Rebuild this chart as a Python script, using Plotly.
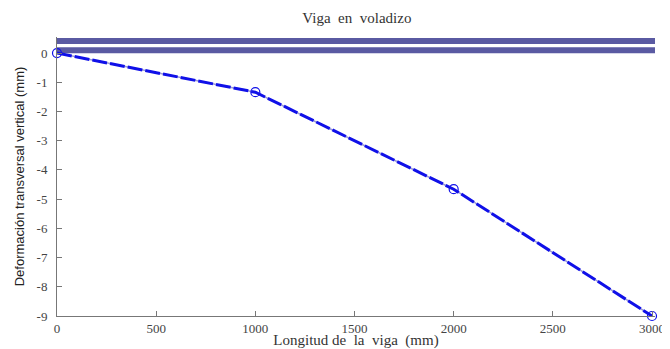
import plotly.graph_objects as go

x_pos = [0, 1000, 2000, 3000]
deflection = [0, -1.34, -4.66, -9.0]
x_ticks = [0, 500, 1000, 1500, 2000, 2500, 3000]
y_ticks = [0, -1, -2, -3, -4, -5, -6, -7, -8, -9]
beam_x = [0, 3015]
beam_top = 0.41
beam_bottom = 0.1

fig = go.Figure()
# beam drawn at top
for yv in (beam_top, beam_bottom):
    fig.add_trace(go.Scatter(x=beam_x, y=[yv, yv], mode="lines",
                             line=dict(color="#5a5aa2", width=6), hoverinfo="skip", showlegend=False))
fig.add_trace(go.Scatter(x=x_pos, y=deflection, mode="lines",
                         line=dict(color="#9a9ad8", width=1.5), showlegend=False))
fig.add_trace(go.Scatter(x=x_pos, y=deflection, mode="lines+markers",
                         line=dict(color="#1010e8", width=3, dash="15px,3px"),
                         marker=dict(symbol="circle-open", size=9, color="#1010e8", line=dict(width=1.2)),
                         showlegend=False, cliponaxis=False))

serif = "Liberation Serif"
# page body adds an 8px offset, so the figure is 8px smaller than the window
fig.update_layout(
    width=662, height=341,
    margin=dict(l=49, r=15, t=29, b=33),
    paper_bgcolor="white", plot_bgcolor="white",
    title=dict(text="Viga  en  voladizo", x=0.527, xanchor="center", y=0.971, yanchor="middle",
               font=dict(family=serif, size=15, color="#333")),
    xaxis=dict(range=[0, 3015], tickvals=x_ticks, ticktext=[str(v) for v in x_ticks],
               automargin=False,
               showgrid=False, zeroline=False, showline=True, linecolor="#777", linewidth=1,
               ticks="inside", ticklen=5, tickcolor="#777",
               tickfont=dict(family=serif, size=13, color="#444"),
               title=dict(text="Longitud de  la  viga  (mm)", standoff=3,
                          font=dict(family=serif, size=15, color="#333"))),
    yaxis=dict(range=[-9, 0.55], tickvals=y_ticks, ticktext=[str(v) for v in y_ticks],
               automargin=False, ticklabelstandoff=6,
               showgrid=False, zeroline=False, showline=True, linecolor="#777", linewidth=1,
               ticks="inside", ticklen=5, tickcolor="#777",
               tickfont=dict(family=serif, size=13, color="#444"),
               title=dict(text="Deformación transversal vertical (mm)", standoff=9,
                          font=dict(family="Liberation Sans", size=13, color="#222"))),
)
fig.write_html("out.html")
